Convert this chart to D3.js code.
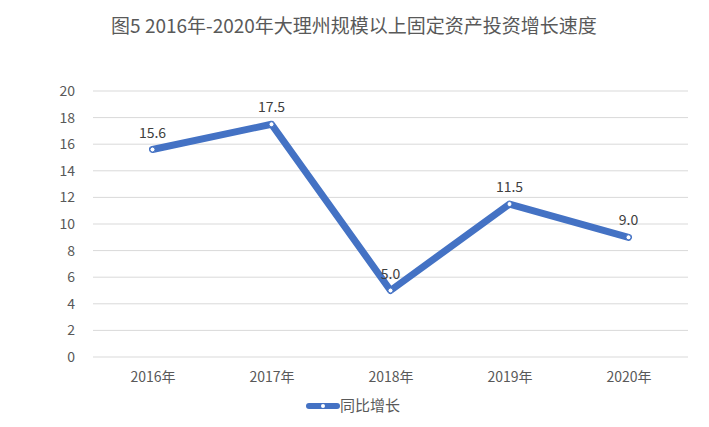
<!DOCTYPE html>
<html>
<head>
<meta charset="utf-8">
<script src="https://cdn.jsdelivr.net/npm/d3@7"></script>
<style>
  body { margin: 0; background: #fff; }
  text { font-family: "Noto Sans CJK SC", "Noto Sans", sans-serif; }
</style>
</head>
<body>
<svg width="709" height="427"></svg>
<script>
var years = ["2016年", "2017年", "2018年", "2019年", "2020年"];
var growth = [15.6, 17.5, 5.0, 11.5, 9.0];
var yTicks = [0, 2, 4, 6, 8, 10, 12, 14, 16, 18, 20];
var seriesName = "同比增长";
var title = "图5 2016年-2020年大理州规模以上固定资产投资增长速度";

var svg = d3.select("svg"),
    width = +svg.attr("width"),
    height = +svg.attr("height");

// plot area (window.top is reserved, so prefix names)
var plotLeft = 93, plotRight = 688, plotTop = 91, plotBottom = 357;
var blue = "#4472C4";

var x = d3.scalePoint().domain(years).range([plotLeft, plotRight]).padding(0.5);
var y = d3.scaleLinear().domain([0, 20]).range([plotBottom, plotTop]);

svg.append("text")
    .attr("x", 354).attr("y", 33)
    .attr("text-anchor", "middle")
    .style("font-size", "19px")
    .style("fill", "#595959")
    .text(title);

// gridlines
svg.append("g").selectAll("line")
    .data(yTicks)
  .enter().append("line")
    .attr("x1", plotLeft).attr("x2", plotRight)
    .attr("y1", function(d) { return y(d); })
    .attr("y2", function(d) { return y(d); })
    .style("stroke", "#d9d9d9")
    .style("stroke-width", 1);

// y axis labels
var yAxis = svg.append("g")
    .attr("transform", "translate(" + (plotLeft - 18) + ",0)")
    .call(d3.axisLeft(y).tickValues(yTicks).tickSize(0).tickPadding(0));
yAxis.select(".domain").remove();
yAxis.selectAll("text")
    .style("font-size", "14px")
    .style("fill", "#595959")
    .style("font-family", "'Noto Sans CJK SC', sans-serif");

// x axis labels
var xAxis = svg.append("g")
    .attr("transform", "translate(0," + plotBottom + ")")
    .call(d3.axisBottom(x).tickSize(0).tickPadding(15));
xAxis.select(".domain").remove();
xAxis.selectAll("text")
    .style("font-size", "14px")
    .style("fill", "#595959")
    .style("font-family", "'Noto Sans CJK SC', sans-serif");

var line = d3.line()
    .x(function(d, i) { return x(years[i]); })
    .y(function(d) { return y(d); });

svg.append("path")
    .datum(growth)
    .attr("d", line)
    .style("fill", "none")
    .style("stroke", blue)
    .style("stroke-width", 7)
    .style("stroke-linejoin", "round")
    .style("stroke-linecap", "round");

svg.append("g").selectAll("circle")
    .data(growth)
  .enter().append("circle")
    .attr("cx", function(d, i) { return x(years[i]); })
    .attr("cy", function(d) { return y(d); })
    .attr("r", 2.5)
    .style("fill", "#fff")
    .style("stroke", blue)
    .style("stroke-width", 1);

svg.append("g").selectAll("text")
    .data(growth)
  .enter().append("text")
    .attr("x", function(d, i) { return x(years[i]); })
    .attr("y", function(d) { return y(d) - 12; })
    .attr("text-anchor", "middle")
    .style("font-size", "14px")
    .style("fill", "#404040")
    .text(function(d) { return d.toFixed(1); });

// legend
var leg = svg.append("g").attr("transform", "translate(307,406)");
leg.append("line")
    .attr("x1", 2).attr("x2", 30)
    .attr("y1", 0).attr("y2", 0)
    .style("stroke", blue)
    .style("stroke-width", 6)
    .style("stroke-linecap", "round");
leg.append("circle")
    .attr("cx", 16).attr("cy", 0).attr("r", 2)
    .style("fill", "#fff");
leg.append("text")
    .attr("x", 33).attr("y", 5)
    .style("font-size", "15px")
    .style("fill", "#595959")
    .text(seriesName);
</script>
</body>
</html>
